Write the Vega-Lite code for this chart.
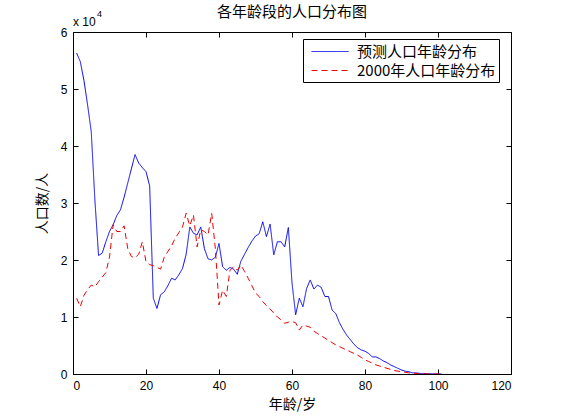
{
  "$schema": "https://vega.github.io/schema/vega-lite/v6.json",
  "width": 438,
  "height": 342,
  "autosize": {"type": "none"},
  "padding": {"left": 73, "top": 32, "right": 50, "bottom": 46},
  "background": "white",
  "title": {"text": "各年龄段的人口分布图", "fontSize": 15, "fontWeight": "normal", "font": "Noto Sans CJK SC", "offset": -10, "color": "black"},
  "config": {
    "view": {"stroke": "black", "strokeWidth": 1},
    "axis": {
      "grid": false,
      "domainColor": "black",
      "tickColor": "black",
      "labelColor": "black",
      "labelFont": "Liberation Sans",
      "labelFontSize": 12,
      "tickSize": -5,
      "labelPadding": 11,
      "titleFont": "Noto Sans CJK SC",
      "titleFontSize": 14,
      "titleFontWeight": "normal",
      "titleColor": "black"
    }
  },
  "resolve": {"axis": {"x": "independent", "y": "independent"}},
  "layer": [
    {
      "data": {
        "values": [
          {"age": 1, "预测人口年龄分布": 56300, "2000年人口年龄分布": 13300},
          {"age": 2, "预测人口年龄分布": 54800, "2000年人口年龄分布": 11800},
          {"age": 3, "预测人口年龄分布": 51500, "2000年人口年龄分布": 13800},
          {"age": 4, "预测人口年龄分布": 47200, "2000年人口年龄分布": 14800},
          {"age": 5, "预测人口年龄分布": 42500, "2000年人口年龄分布": 15600},
          {"age": 6, "预测人口年龄分布": 30500, "2000年人口年龄分布": 15300},
          {"age": 7, "预测人口年龄分布": 20800, "2000年人口年龄分布": 16200},
          {"age": 8, "预测人口年龄分布": 21200, "2000年人口年龄分布": 17000},
          {"age": 9, "预测人口年龄分布": 23200, "2000年人口年龄分布": 17800},
          {"age": 10, "预测人口年龄分布": 25000, "2000年人口年龄分布": 20500},
          {"age": 11, "预测人口年龄分布": 26200, "2000年人口年龄分布": 26200},
          {"age": 12, "预测人口年龄分布": 27800, "2000年人口年龄分布": 25000},
          {"age": 13, "预测人口年龄分布": 28800, "2000年人口年龄分布": 25000},
          {"age": 14, "预测人口年龄分布": 31000, "2000年人口年龄分布": 26000},
          {"age": 15, "预测人口年龄分布": 33500, "2000年人口年龄分布": 22000},
          {"age": 16, "预测人口年龄分布": 36000, "2000年人口年龄分布": 20600},
          {"age": 17, "预测人口年龄分布": 38500, "2000年人口年龄分布": 20400},
          {"age": 18, "预测人口年龄分布": 37000, "2000年人口年龄分布": 21000},
          {"age": 19, "预测人口年龄分布": 36200, "2000年人口年龄分布": 23200},
          {"age": 20, "预测人口年龄分布": 35500, "2000年人口年龄分布": 19700},
          {"age": 21, "预测人口年龄分布": 33000, "2000年人口年龄分布": 19200},
          {"age": 22, "预测人口年龄分布": 13300, "2000年人口年龄分布": 19000},
          {"age": 23, "预测人口年龄分布": 11500, "2000年人口年龄分布": 18700},
          {"age": 24, "预测人口年龄分布": 13900, "2000年人口年龄分布": 18400},
          {"age": 25, "预测人口年龄分布": 14400, "2000年人口年龄分布": 20500},
          {"age": 26, "预测人口年龄分布": 15500, "2000年人口年龄分布": 21500},
          {"age": 27, "预测人口年龄分布": 16800, "2000年人口年龄分布": 22500},
          {"age": 28, "预测人口年龄分布": 16500, "2000年人口年龄分布": 23800},
          {"age": 29, "预测人口年龄分布": 17400, "2000年人口年龄分布": 24800},
          {"age": 30, "预测人口年龄分布": 18500, "2000年人口年龄分布": 25800},
          {"age": 31, "预测人口年龄分布": 21000, "2000年人口年龄分布": 28200},
          {"age": 32, "预测人口年龄分布": 25800, "2000年人口年龄分布": 26000},
          {"age": 33, "预测人口年龄分布": 24700, "2000年人口年龄分布": 27900},
          {"age": 34, "预测人口年龄分布": 24400, "2000年人口年龄分布": 22300},
          {"age": 35, "预测人口年龄分布": 25800, "2000年人口年龄分布": 25300},
          {"age": 36, "预测人口年龄分布": 22000, "2000年人口年龄分布": 25000},
          {"age": 37, "预测人口年龄分布": 20200, "2000年人口年龄分布": 24400},
          {"age": 38, "预测人口年龄分布": 20000, "2000年人口年龄分布": 28200},
          {"age": 39, "预测人口年龄分布": 20500, "2000年人口年龄分布": 22000},
          {"age": 40, "预测人口年龄分布": 22900, "2000年人口年龄分布": 12100},
          {"age": 41, "预测人口年龄分布": 18800, "2000年人口年龄分布": 14700},
          {"age": 42, "预测人口年龄分布": 18200, "2000年人口年龄分布": 13600},
          {"age": 43, "预测人口年龄分布": 18700, "2000年人口年龄分布": 18200},
          {"age": 44, "预测人口年龄分布": 18400, "2000年人口年龄分布": 18800},
          {"age": 45, "预测人口年龄分布": 17500, "2000年人口年龄分布": 18200},
          {"age": 46, "预测人口年龄分布": 19800, "2000年人口年龄分布": 19100},
          {"age": 47, "预测人口年龄分布": 21000, "2000年人口年龄分布": 18000},
          {"age": 48, "预测人口年龄分布": 22200, "2000年人口年龄分布": 16800},
          {"age": 49, "预测人口年龄分布": 23300, "2000年人口年龄分布": 15500},
          {"age": 50, "预测人口年龄分布": 24200, "2000年人口年龄分布": 14200},
          {"age": 51, "预测人口年龄分布": 24600, "2000年人口年龄分布": 13600},
          {"age": 52, "预测人口年龄分布": 26700, "2000年人口年龄分布": 12700},
          {"age": 53, "预测人口年龄分布": 24100, "2000年人口年龄分布": 12000},
          {"age": 54, "预测人口年龄分布": 26300, "2000年人口年龄分布": 11400},
          {"age": 55, "预测人口年龄分布": 20900, "2000年人口年龄分布": 10700},
          {"age": 56, "预测人口年龄分布": 23200, "2000年人口年龄分布": 10000},
          {"age": 57, "预测人口年龄分布": 23200, "2000年人口年龄分布": 9500},
          {"age": 58, "预测人口年龄分布": 22300, "2000年人口年龄分布": 8900},
          {"age": 59, "预测人口年龄分布": 25700, "2000年人口年龄分布": 9100},
          {"age": 60, "预测人口年龄分布": 16000, "2000年人口年龄分布": 9200},
          {"age": 61, "预测人口年龄分布": 10400, "2000年人口年龄分布": 9000},
          {"age": 62, "预测人口年龄分布": 13300, "2000年人口年龄分布": 7700},
          {"age": 63, "预测人口年龄分布": 11800, "2000年人口年龄分布": 8600},
          {"age": 64, "预测人口年龄分布": 15000, "2000年人口年龄分布": 8400},
          {"age": 65, "预测人口年龄分布": 16500, "2000年人口年龄分布": 8200},
          {"age": 66, "预测人口年龄分布": 14900, "2000年人口年龄分布": 7500},
          {"age": 67, "预测人口年龄分布": 15600, "2000年人口年龄分布": 7100},
          {"age": 68, "预测人口年龄分布": 15200, "2000年人口年龄分布": 6700},
          {"age": 69, "预测人口年龄分布": 13600, "2000年人口年龄分布": 6300},
          {"age": 70, "预测人口年龄分布": 13600, "2000年人口年龄分布": 5900},
          {"age": 71, "预测人口年龄分布": 11200, "2000年人口年龄分布": 5500},
          {"age": 72, "预测人口年龄分布": 10600, "2000年人口年龄分布": 5100},
          {"age": 73, "预测人口年龄分布": 9000, "2000年人口年龄分布": 4800},
          {"age": 74, "预测人口年龄分布": 7800, "2000年人口年龄分布": 4500},
          {"age": 75, "预测人口年龄分布": 6800, "2000年人口年龄分布": 4200},
          {"age": 76, "预测人口年龄分布": 6000, "2000年人口年龄分布": 3900},
          {"age": 77, "预测人口年龄分布": 5200, "2000年人口年龄分布": 3600},
          {"age": 78, "预测人口年龄分布": 4600, "2000年人口年龄分布": 3300},
          {"age": 79, "预测人口年龄分布": 4200, "2000年人口年龄分布": 2900},
          {"age": 80, "预测人口年龄分布": 4000, "2000年人口年龄分布": 2500},
          {"age": 81, "预测人口年龄分布": 3600, "2000年人口年龄分布": 2200},
          {"age": 82, "预测人口年龄分布": 3000, "2000年人口年龄分布": 1900},
          {"age": 83, "预测人口年龄分布": 3000, "2000年人口年龄分布": 1600},
          {"age": 84, "预测人口年龄分布": 2700, "2000年人口年龄分布": 1400},
          {"age": 85, "预测人口年龄分布": 2300, "2000年人口年龄分布": 1200},
          {"age": 86, "预测人口年龄分布": 2000, "2000年人口年龄分布": 1000},
          {"age": 87, "预测人口年龄分布": 1600, "2000年人口年龄分布": 800},
          {"age": 88, "预测人口年龄分布": 1300, "2000年人口年龄分布": 600},
          {"age": 89, "预测人口年龄分布": 1000, "2000年人口年龄分布": 500},
          {"age": 90, "预测人口年龄分布": 700, "2000年人口年龄分布": 400},
          {"age": 91, "预测人口年龄分布": 500, "2000年人口年龄分布": 300},
          {"age": 92, "预测人口年龄分布": 400, "2000年人口年龄分布": 200},
          {"age": 93, "预测人口年龄分布": 200, "2000年人口年龄分布": 150},
          {"age": 94, "预测人口年龄分布": 200, "2000年人口年龄分布": 100},
          {"age": 95, "预测人口年龄分布": 100, "2000年人口年龄分布": 70},
          {"age": 96, "预测人口年龄分布": 100, "2000年人口年龄分布": 50},
          {"age": 97, "预测人口年龄分布": 50, "2000年人口年龄分布": 30},
          {"age": 98, "预测人口年龄分布": 50, "2000年人口年龄分布": 20},
          {"age": 99, "预测人口年龄分布": 30, "2000年人口年龄分布": 10},
          {"age": 100, "预测人口年龄分布": 20, "2000年人口年龄分布": 10},
          {"age": 101, "预测人口年龄分布": 0, "2000年人口年龄分布": 0}
        ]
      },
      "transform": [
        {"fold": ["预测人口年龄分布", "2000年人口年龄分布"], "as": ["series", "people"]}
      ],
      "mark": {"type": "line", "strokeWidth": 1, "clip": true},
      "encoding": {
        "x": {
          "field": "age", "type": "quantitative",
          "scale": {"domain": [0, 120], "nice": false, "zero": false},
          "axis": {"orient": "bottom", "values": [0, 20, 40, 60, 80, 100, 120], "title": "年龄/岁", "titlePadding": 6}
        },
        "y": {
          "field": "people", "type": "quantitative",
          "scale": {"domain": [0, 60000], "nice": false},
          "axis": {"orient": "left", "values": [0, 10000, 20000, 30000, 40000, 50000, 60000], "labelExpr": "datum.value / 10000", "title": "人口数/人", "titlePadding": 11}
        },
        "color": {
          "field": "series", "type": "nominal",
          "scale": {"domain": ["预测人口年龄分布", "2000年人口年龄分布"], "range": ["#0000ee", "#ee0000"]},
          "legend": {
            "title": null, "orient": "none", "legendX": 230, "legendY": 7,
            "strokeColor": "black", "fillColor": "white", "padding": 3,
            "labelFont": "Noto Sans CJK SC", "labelFontSize": 15, "labelColor": "black",
            "symbolType": "M-0.44,0H3.67", "symbolSize": 324, "symbolStrokeWidth": 1, "rowPadding": 1, "labelOffset": 32
          }
        },
        "strokeDash": {
          "field": "series", "type": "nominal",
          "scale": {"domain": ["预测人口年龄分布", "2000年人口年龄分布"], "range": [[1, 0], [6, 4]]}
        }
      }
    },
    {
      "data": {"values": [{"label": "x 10"}]},
      "mark": {"type": "text", "align": "left", "baseline": "alphabetic", "dx": 0, "dy": -6, "font": "Liberation Sans", "fontSize": 12, "color": "black"},
      "encoding": {
        "x": {"datum": 0, "type": "quantitative", "axis": {"orient": "top", "labels": false, "title": null, "values": [0, 20, 40, 60, 80, 100, 120], "domain": false}},
        "y": {"datum": 60000, "type": "quantitative", "axis": {"orient": "right", "labels": false, "title": null, "values": [0, 10000, 20000, 30000, 40000, 50000, 60000], "domain": false}},
        "text": {"field": "label"}
      }
    },
    {
      "data": {"values": [{"label": "4"}]},
      "mark": {"type": "text", "align": "left", "baseline": "alphabetic", "dx": 24, "dy": -15, "font": "Liberation Sans", "fontSize": 9, "color": "black"},
      "encoding": {
        "x": {"datum": 0, "type": "quantitative", "axis": null},
        "y": {"datum": 60000, "type": "quantitative", "axis": null},
        "text": {"field": "label"}
      }
    }
  ]
}
